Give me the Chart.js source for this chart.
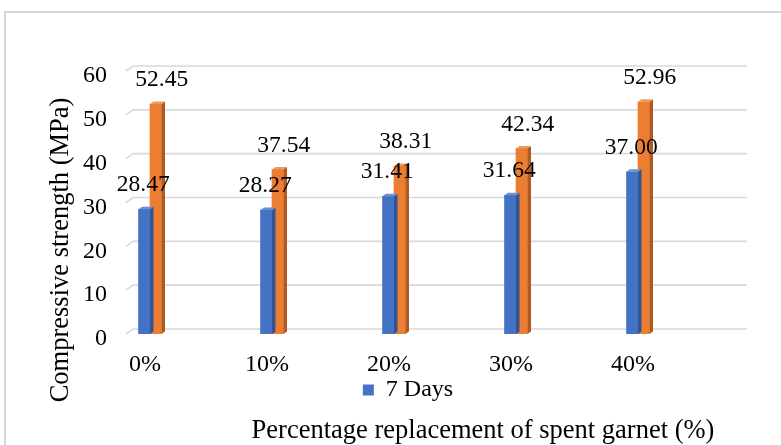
<!DOCTYPE html>
<html>
<head>
<meta charset="utf-8">
<script src="https://cdn.jsdelivr.net/npm/chart.js@4.4.0/dist/chart.umd.min.js"></script>
<style>
  html, body { margin: 0; padding: 0; background: #ffffff; }
  canvas { display: block; }
</style>
</head>
<body>
<canvas id="chart" width="781" height="445"></canvas>
<script>
// Compressive strength of concrete with spent garnet as partial sand replacement
const categories = ['0%', '10%', '20%', '30%', '40%'];
const strength7Days = [28.47, 28.27, 31.41, 31.64, 37.00];
const strength28Days = [52.45, 37.54, 38.31, 42.34, 52.96];
const seriesNames = ['7 Days', '28 Days'];
const yTickValues = [0, 10, 20, 30, 40, 50, 60];
const yAxisTitle = 'Compressive strength (MPa)';
const xAxisTitle = 'Percentage replacement of spent garnet (%)';

const SERIF = "'Liberation Serif', 'Times New Roman', Times, serif";
const TEXT = '#000000';
const GRID = '#d9d9d9';

// face colours for the pseudo-3D columns: [front, top, side]
const faceColours = [
  ['#4472C4', '#6b8fd4', '#2f5597'],
  ['#ED7D31', '#f2995a', '#ae5a21']
];

const toPoints = arr => arr.map((v, i) => ({ x: i, y: v }));

// white page with the thin grey frame of the chart object
const framePlugin = {
  id: 'frame',
  beforeDraw(chart) {
    const { ctx, width, height } = chart;
    ctx.save();
    ctx.fillStyle = '#ffffff';
    ctx.fillRect(0, 0, width, height);
    ctx.strokeStyle = '#d6d6d6';
    ctx.lineWidth = 2;
    ctx.beginPath();
    ctx.moveTo(5, height);
    ctx.lineTo(5, 12);
    ctx.lineTo(width, 12);
    ctx.stroke();
    ctx.restore();
  }
};

// back-wall gridlines with the short floor diagonal at the left
const wallGridPlugin = {
  id: 'wallGrid',
  beforeDatasetsDraw(chart) {
    const { ctx, chartArea, scales } = chart;
    const depthX = 7, depthY = 5;
    const right = chartArea.right - 23;
    ctx.save();
    ctx.strokeStyle = GRID;
    ctx.lineWidth = 1.6;
    yTickValues.forEach(v => {
      const y = scales.y.getPixelForValue(v);
      ctx.beginPath();
      ctx.moveTo(chartArea.left, y);
      ctx.lineTo(chartArea.left + depthX, y - depthY);
      ctx.lineTo(right, y - depthY);
      ctx.stroke();
    });
    ctx.restore();
  }
};

// top and side faces of each column, drawn right after its own dataset
const columnDepthPlugin = {
  id: 'columnDepth',
  afterDatasetDraw(chart, args) {
    const { ctx } = chart;
    const colours = faceColours[args.index];
    const dx = 3.5, dy = 2.5;
    ctx.save();
    args.meta.data.forEach(bar => {
      const { x, y, base, width } = bar.getProps(['x', 'y', 'base', 'width'], true);
      const l = x - width / 2, r = x + width / 2;
      ctx.fillStyle = colours[2];
      ctx.beginPath();
      ctx.moveTo(r, y);
      ctx.lineTo(r + dx, y - dy);
      ctx.lineTo(r + dx, base - dy);
      ctx.lineTo(r, base);
      ctx.closePath();
      ctx.fill();
      ctx.fillStyle = colours[1];
      ctx.beginPath();
      ctx.moveTo(l, y);
      ctx.lineTo(l + dx, y - dy);
      ctx.lineTo(r + dx, y - dy);
      ctx.lineTo(r, y);
      ctx.closePath();
      ctx.fill();
    });
    ctx.restore();
  }
};

// value labels above every column
const valueLabelPlugin = {
  id: 'valueLabels',
  afterDatasetsDraw(chart) {
    const { ctx } = chart;
    const shift = [-1, 6];
    ctx.save();
    ctx.font = '23.5px ' + SERIF;
    ctx.fillStyle = TEXT;
    ctx.textAlign = 'center';
    ctx.textBaseline = 'middle';
    chart.data.datasets.forEach((ds, di) => {
      chart.getDatasetMeta(di).data.forEach((bar, i) => {
        const value = ds.data[i].y;
        ctx.fillText(value.toFixed(2), bar.x + shift[di], bar.y - 24);
      });
    });
    ctx.restore();
  }
};

// axis captions
const captionPlugin = {
  id: 'captions',
  afterDraw(chart) {
    const { ctx } = chart;
    ctx.save();
    ctx.font = '26.5px ' + SERIF;
    ctx.fillStyle = TEXT;
    ctx.textAlign = 'center';
    ctx.textBaseline = 'alphabetic';
    ctx.fillText(xAxisTitle, 483, 438);
    ctx.translate(67.5, 250);
    ctx.rotate(-Math.PI / 2);
    ctx.fillText(yAxisTitle, 0, 0);
    ctx.restore();
  }
};

new Chart(document.getElementById('chart'), {
  type: 'bar',
  data: {
    datasets: [
      {
        label: seriesNames[0],
        data: toPoints(strength7Days),
        backgroundColor: faceColours[0][0],
        barThickness: 11.5,
        borderWidth: 0
      },
      {
        label: seriesNames[1],
        data: toPoints(strength28Days),
        backgroundColor: faceColours[1][0],
        barThickness: 11.5,
        borderWidth: 0
      }
    ]
  },
  options: {
    responsive: false,
    animation: false,
    devicePixelRatio: 1,
    layout: { padding: { left: 46, right: 11, top: 71, bottom: 33 } },
    scales: {
      x: {
        type: 'linear',
        offset: false,
        min: -0.1967,
        max: 5.082,
        afterBuildTicks: scale => { scale.ticks = categories.map((_, i) => ({ value: i })); },
        afterFit: scale => { scale.height = 42; },
        grid: { display: false, drawTicks: false },
        border: { display: false },
        ticks: {
          callback: v => categories[v],
          font: { family: SERIF, size: 24, lineHeight: 1 },
          color: TEXT,
          padding: 19,
          labelOffset: -5,
          maxRotation: 0,
          autoSkip: false
        }
      },
      y: {
        min: 0,
        max: 60,
        afterBuildTicks: scale => { scale.ticks = yTickValues.map(v => ({ value: v })); },
        afterFit: scale => { scale.width = 80; },
        grid: { display: false, drawTicks: false },
        border: { display: false },
        ticks: {
          font: { family: SERIF, size: 24 },
          color: TEXT,
          padding: 19,
          labelOffset: 5
        }
      }
    },
    plugins: {
      legend: {
        position: 'bottom',
        labels: {
          filter: item => item.datasetIndex === 0,
          boxWidth: 11,
          boxHeight: 11,
          padding: 2,
          color: TEXT,
          font: { family: SERIF, size: 24 }
        }
      },
      tooltip: { enabled: false }
    }
  },
  plugins: [framePlugin, wallGridPlugin, columnDepthPlugin, valueLabelPlugin, captionPlugin]
});
</script>
</body>
</html>
